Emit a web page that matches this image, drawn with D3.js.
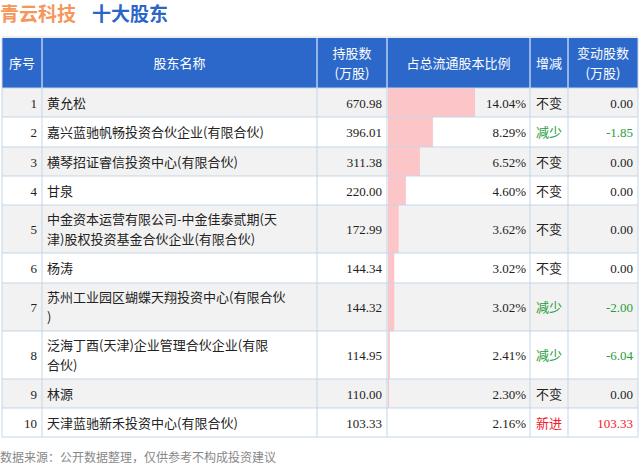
<!DOCTYPE html>
<html><head><meta charset="utf-8">
<script src="https://cdn.jsdelivr.net/npm/d3@7"></script>
<style>body{margin:0;background:#fff}</style>
</head><body><svg id="c" width="640" height="466"></svg>
<script>
const ranks = [1,2,3,4,5,6,7,8,9,10];
const names = [["黄允松"],["嘉兴蓝驰帆畅投资合伙企业(有限合伙)"],["横琴招证睿信投资中心(有限合伙)"],["甘泉"],
  ["中金资本运营有限公司-中金佳泰贰期(天","津)股权投资基金合伙企业(有限合伙)"],["杨涛"],
  ["苏州工业园区蝴蝶天翔投资中心(有限合伙",")"],["泛海丁酉(天津)企业管理合伙企业(有限","合伙)"],["林源"],["天津蓝驰新禾投资中心(有限合伙)"]];
const shares = [670.98,396.01,311.38,220.00,172.99,144.34,144.32,114.95,110.00,103.33];
const ratios = [14.04,8.29,6.52,4.60,3.62,3.02,3.02,2.41,2.30,2.16];
const changeType = ["不变","减少","不变","不变","不变","不变","减少","减少","不变","新进"];
const changes = [0,-1.85,0,0,0,0,-2.00,-6.04,0,103.33];
const headers = [["序号"],["股东名称"],["持股数","(万股)"],["占总流通股本比例"],["增减"],["变动股数","(万股)"]];

const svg = d3.select("#c");
const cols = [2,42,317,387,530,568,638];
const rowH = [29,30,29,29,48,30,48,48,29,29];
const tops = [88]; rowH.forEach(h => tops.push(tops[tops.length-1]+h));
const cjk = "'Noto Sans CJK SC', sans-serif", num = "'Liberation Serif', serif";
const colorOf = t => t==="减少" ? "#2a9d3a" : t==="新进" ? "#f0202a" : "#222";

svg.append("text").attr("x",0).attr("y",21).attr("font-family",cjk).attr("font-size",19).attr("font-weight","bold")
  .attr("fill","#f5965a").text("青云科技");
svg.append("text").attr("x",92).attr("y",21).attr("font-family",cjk).attr("font-size",19).attr("font-weight","bold")
  .attr("fill","#2a66c8").text("十大股东");

// header
svg.append("rect").attr("x",2).attr("y",38).attr("width",636).attr("height",50).attr("fill","#2c68ca");
headers.forEach((h,i) => {
  const cx = (cols[i]+cols[i+1])/2;
  h.forEach((t,j) => svg.append("text").attr("x",cx).attr("y",63+(j-(h.length-1)/2)*20+5)
    .attr("text-anchor","middle").attr("font-family",cjk).attr("font-size",13).attr("fill","#fff").text(t));
});

const x = d3.scaleLinear().domain([2.16,14.04]).range([0,87]);

ranks.forEach((r,i) => {
  const y0 = tops[i], h = rowH[i], cy = y0+h/2+5;
  svg.append("rect").attr("x",2).attr("y",y0).attr("width",636).attr("height",h).attr("fill", i%2===0 ? "#f2f2f2" : "#fff");
  svg.append("rect").attr("x",cols[3]+1).attr("y",y0).attr("width",Math.max(0,x(ratios[i]))).attr("height",h).attr("fill","#fcc6c8");
  svg.append("text").attr("x",cols[1]-5).attr("y",cy).attr("text-anchor","end").attr("font-family",num).attr("font-size",13).attr("fill","#222").text(r);
  names[i].forEach((t,j) => svg.append("text").attr("x",cols[1]+5).attr("y",cy+(j-(names[i].length-1)/2)*20)
    .attr("font-family",cjk).attr("font-size",13).attr("fill","#222").text(t));
  svg.append("text").attr("x",cols[3]-5).attr("y",cy).attr("text-anchor","end").attr("font-family",num).attr("font-size",13).attr("fill","#222").text(shares[i].toFixed(2));
  svg.append("text").attr("x",cols[4]-4).attr("y",cy).attr("text-anchor","end").attr("font-family",num).attr("font-size",13).attr("fill","#222").text(ratios[i].toFixed(2)+"%");
  svg.append("text").attr("x",(cols[4]+cols[5])/2).attr("y",cy).attr("text-anchor","middle").attr("font-family",cjk).attr("font-size",13).attr("fill",colorOf(changeType[i])).text(changeType[i]);
  svg.append("text").attr("x",cols[6]-5).attr("y",cy).attr("text-anchor","end").attr("font-family",num).attr("font-size",13).attr("fill",colorOf(changeType[i])).text(changes[i].toFixed(2));
});

// grid lines
const bot = tops[tops.length-1];
cols.forEach((c,i) => svg.append("line").attr("x1",c).attr("x2",c).attr("y1",i===0||i===6?38:88).attr("y2",bot).attr("stroke","#c5d5e8"));
cols.slice(1,-1).forEach(c => svg.append("line").attr("x1",c).attr("x2",c).attr("y1",38).attr("y2",88).attr("stroke","#fff"));
tops.forEach(t => svg.append("line").attr("x1",2).attr("x2",638).attr("y1",t).attr("y2",t).attr("stroke","#c5d5e8"));
svg.append("line").attr("x1",2).attr("x2",638).attr("y1",37).attr("y2",37).attr("stroke","#ddd");

svg.append("text").attr("x",0).attr("y",462).attr("font-family",cjk).attr("font-size",12).attr("fill","#888").text("数据来源：公开数据整理，仅供参考不构成投资建议");
</script></body></html>
